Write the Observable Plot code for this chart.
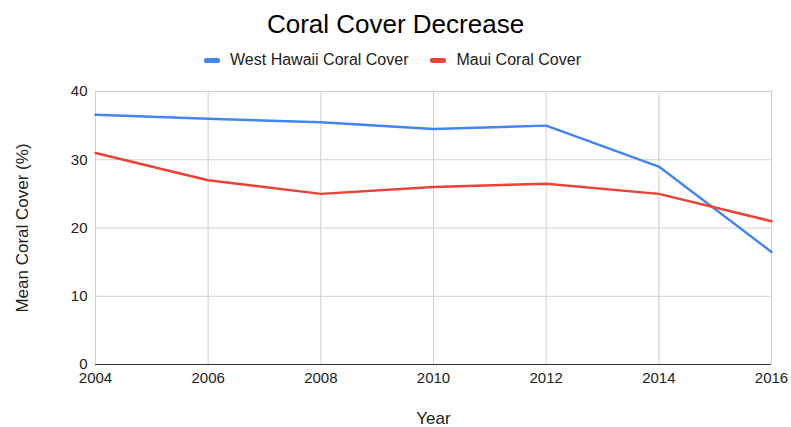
<!DOCTYPE html>
<html>
<head>
<meta charset="utf-8">
<script src="https://cdn.jsdelivr.net/npm/d3@7"></script>
<script src="https://cdn.jsdelivr.net/npm/@observablehq/plot@0.6"></script>
<style>
  html, body { margin: 0; padding: 0; background: #fff; }
  body { width: 791px; height: 427px; overflow: hidden; font-family: "Liberation Sans", Arial, sans-serif; color: #222; }
  #title { box-sizing: border-box; height: 45px; padding-top: 11px; line-height: 26px; text-align: center; font-size: 26px; color: #000; padding-left: 0; }
  #legend { height: 30px; display: flex; justify-content: center; align-items: center; gap: 22px; font-size: 16px; color: #222; padding-right: 6px; }
  .item { display: flex; align-items: center; gap: 10px; }
  .sw { width: 16px; height: 5px; border-radius: 2px; display: inline-block; }
  #chart svg { display: block; overflow: visible; }
</style>
</head>
<body>
<div id="title">Coral Cover Decrease</div>
<div id="legend"></div>
<div id="chart"></div>
<script>
const years = [2004, 2006, 2008, 2010, 2012, 2014, 2016];
const westHawaii = [36.6, 36.0, 35.5, 34.5, 35.0, 29.0, 16.5];
const maui = [31.0, 27.0, 25.0, 26.0, 26.5, 25.0, 21.0];
const seriesNames = ["West Hawaii Coral Cover", "Maui Coral Cover"];
const seriesColors = ["#4285F4", "#EA4335"];
const xTicks = [2004, 2006, 2008, 2010, 2012, 2014, 2016];
const yTicks = [0, 10, 20, 30, 40];

const data = [];
years.forEach((y, i) => {
  data.push({year: y, value: westHawaii[i], series: seriesNames[0]});
  data.push({year: y, value: maui[i], series: seriesNames[1]});
});

const legend = document.getElementById("legend");
seriesNames.forEach((n, i) => {
  const it = document.createElement("div");
  it.className = "item";
  const sw = document.createElement("span");
  sw.className = "sw";
  sw.style.background = seriesColors[i];
  const t = document.createElement("span");
  t.textContent = n;
  it.appendChild(sw); it.appendChild(t);
  legend.appendChild(it);
});

const chart = Plot.plot({
  width: 791,
  height: 352,
  marginTop: 16,
  marginBottom: 63,
  marginLeft: 95,
  marginRight: 20,
  style: {fontFamily: "'Liberation Sans', Arial, sans-serif", fontSize: "15px", color: "#222", background: "#fff"},
  x: {domain: [2004, 2016]},
  y: {domain: [0, 40]},
  color: {domain: seriesNames, range: seriesColors},
  marks: [
    Plot.gridX(xTicks, {stroke: "#d0d0d0", strokeOpacity: 1, strokeWidth: 1}),
    Plot.gridY(yTicks, {stroke: "#d0d0d0", strokeOpacity: 1, strokeWidth: 1}),
    Plot.axisX(xTicks, {tickSize: 0, tickPadding: 8, tickFormat: d => String(d), fontSize: 15, label: "Year", labelAnchor: "center", labelOffset: 59, labelArrow: "none"}),
    Plot.axisY(yTicks, {tickSize: 0, tickPadding: 8, fontSize: 15, label: "Mean Coral Cover (%)", labelAnchor: "center", labelOffset: 80, labelArrow: "none"}),
    Plot.ruleY([0], {stroke: "#333", strokeWidth: 1}),
    Plot.line(data, {x: "year", y: "value", z: "series", stroke: "series", strokeWidth: 2.5})
  ]
});
document.getElementById("chart").appendChild(chart);
chart.querySelectorAll("g[aria-label='x-axis label'] text, g[aria-label='y-axis label'] text").forEach(t => t.setAttribute("font-size", "17"));
</script>
</body>
</html>
